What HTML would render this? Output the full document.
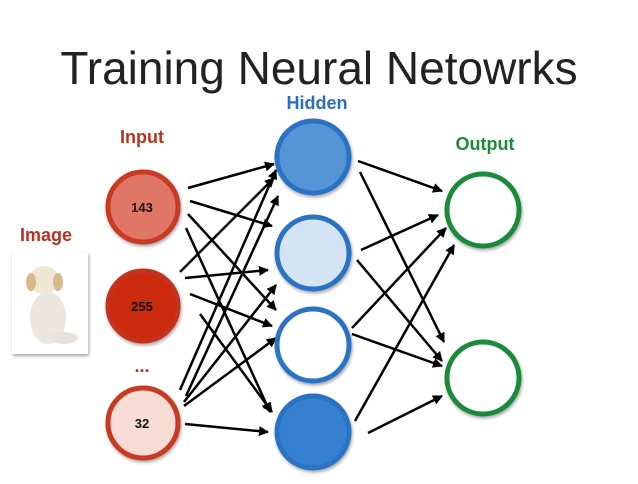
<!DOCTYPE html>
<html><head><style>
body{margin:0;background:#fff;width:638px;height:479px;overflow:hidden;font-family:"Liberation Sans",sans-serif}
</style></head><body>
<svg width="638" height="479" xmlns="http://www.w3.org/2000/svg">
<defs>
<marker id="a" markerWidth="10" markerHeight="10" refX="9" refY="5" orient="auto" markerUnits="userSpaceOnUse"><path d="M0,0 L10,5 L0,10 z" fill="#000"/></marker>
<filter id="s" x="-20%" y="-20%" width="140%" height="140%"><feDropShadow dx="1" dy="2" stdDeviation="1.5" flood-opacity="0.35"/></filter>
</defs>
<text x="319" y="84" text-anchor="middle" font-size="46" font-weight="300" fill="#222">Training Neural Netowrks</text>
<text x="142" y="143" text-anchor="middle" font-size="18" font-weight="bold" fill="#b8321f">Input</text>
<text x="317" y="109" text-anchor="middle" font-size="18" font-weight="bold" fill="#2a6fbf">Hidden</text>
<text x="485" y="150" text-anchor="middle" font-size="18" font-weight="bold" fill="#1f8a3a">Output</text>
<text x="46" y="241" text-anchor="middle" font-size="18" font-weight="bold" fill="#b8321f">Image</text>
<text x="142" y="372" text-anchor="middle" font-size="18" font-weight="bold" fill="#b8321f">...</text>
<rect x="12" y="252" width="76" height="102" fill="#fff" filter="url(#s)"/>
<ellipse cx="48" cy="318" rx="18" ry="26" fill="#ece7de"/>
<ellipse cx="44" cy="280" rx="15" ry="14" fill="#efe6d4"/>
<ellipse cx="31" cy="282" rx="5" ry="9" fill="#d8b98a"/>
<ellipse cx="58" cy="282" rx="5" ry="9" fill="#d8b98a"/>
<ellipse cx="64" cy="338" rx="14" ry="6" fill="#e8e3da"/>
<g stroke="#000" stroke-width="2.5" marker-end="url(#a)" fill="none">
<line x1="188" y1="188" x2="274" y2="164"/>
<line x1="190" y1="201" x2="272" y2="226"/>
<line x1="188" y1="214" x2="276" y2="310"/>
<line x1="186" y1="228" x2="270" y2="412"/>
<line x1="180" y1="272" x2="274" y2="178"/>
<line x1="185" y1="278" x2="268" y2="270"/>
<line x1="190" y1="294" x2="272" y2="326"/>
<line x1="200" y1="314" x2="272" y2="412"/>
<line x1="180" y1="390" x2="276" y2="170"/>
<line x1="186" y1="396" x2="278" y2="196"/>
<line x1="184" y1="402" x2="276" y2="285"/>
<line x1="184" y1="406" x2="276" y2="338"/>
<line x1="185" y1="424" x2="268" y2="432"/>
<line x1="358" y1="161" x2="442" y2="191"/>
<line x1="360" y1="172" x2="444" y2="342"/>
<line x1="361" y1="250" x2="438" y2="215"/>
<line x1="357" y1="260" x2="442" y2="361"/>
<line x1="352" y1="328" x2="446" y2="228"/>
<line x1="352" y1="334" x2="442" y2="366"/>
<line x1="355" y1="421" x2="454" y2="245"/>
<line x1="368" y1="433" x2="442" y2="396"/>
</g>
<g filter="url(#s)" stroke-width="5">
<circle cx="143" cy="207" r="35" fill="#e07766" stroke="#c83a22"/>
<circle cx="143" cy="306" r="35" fill="#cc2a0e" stroke="#c3301a"/>
<circle cx="143" cy="423" r="35" fill="#f9dcd6" stroke="#c83a22"/>
<circle cx="313" cy="157" r="36" fill="#5595d6" stroke="#2a72c2"/>
<circle cx="313" cy="253" r="36" fill="#d5e4f5" stroke="#2a72c2"/>
<circle cx="313" cy="345" r="36" fill="#fff" stroke="#2a72c2"/>
<circle cx="313" cy="432" r="36" fill="#3580d0" stroke="#2a72c2"/>
<circle cx="483" cy="210" r="36" fill="#fff" stroke="#1f8a3a"/>
<circle cx="483" cy="378" r="36" fill="#fff" stroke="#1f8a3a"/>
</g>
<g font-size="13" font-weight="bold" fill="#111" text-anchor="middle">
<text x="142" y="212">143</text>
<text x="142" y="311">255</text>
<text x="142" y="428">32</text>
</g>
</svg>
</body></html>
